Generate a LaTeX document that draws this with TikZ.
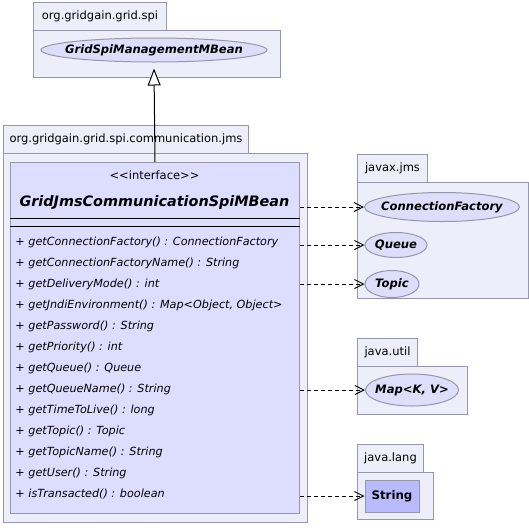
\documentclass[tikz,border=0pt]{standalone}
\usepackage{fontspec}
\setmainfont{DejaVu Sans}
\usetikzlibrary{shapes.geometric,arrows.meta}

\definecolor{pkgfill}{RGB}{238,238,250}
\definecolor{pkgline}{RGB}{150,150,172}
\definecolor{clsfill}{RGB}{221,221,255}
\definecolor{ellfill}{RGB}{222,222,250}
\definecolor{strfill}{RGB}{186,186,255}

\tikzset{every picture/.style={line width=1pt}}
\tikzset{
	pkgtab/.style={draw=pkgline, fill=pkgfill, anchor=north west, inner sep=0pt, font=\fontsize{11.5}{14}\selectfont},
	pkgbody/.style={draw=pkgline, fill=pkgfill, anchor=north west, inner sep=0pt},
	iface/.style={ellipse, draw=pkgline, fill=ellfill, inner xsep=-80pt, inner ysep=-20pt, font=\fontsize{11.6}{13}\selectfont\bfseries\itshape},
	method/.style={anchor=west, inner sep=0pt, font=\fontsize{11.2}{13}\selectfont\itshape},
	dep/.style={dash pattern=on 4pt off 3pt, -{Straight Barb[length=9pt,width=9pt]}},
	inherit/.style={-{Triangle[open,length=17pt,width=13pt,fill=white]}},
}

\begin{document}
\begin{tikzpicture}[x=1pt,y=-1pt]
	\useasboundingbox (0,0) rectangle (529,531);
	
	%Package org.gridgain.grid.spi
	\node[pkgtab, minimum width=133, minimum height=28] (spiTab) at (33,2) {org.gridgain.grid.spi};
	\node[pkgbody, minimum width=247, minimum height=47] (spiPkg) at (33,30) {};
	\node[iface, minimum width=226, minimum height=24] (spiMB) at (154,50) {GridSpiManagementMBean};
	
	%Package org.gridgain.grid.spi.communication.jms
	\node[pkgtab, minimum width=245, minimum height=28] (jmsCommTab) at (3,125) {org.gridgain.grid.spi.communication.jms};
	\node[pkgbody, minimum width=304, minimum height=369] (jmsCommPkg) at (3,153) {};
	\node[pkgbody, draw=pkgline, fill=clsfill, minimum width=289, minimum height=351] (cls) at (10,162) {};
	\node[inner sep=0pt, font=\fontsize{11.5}{13}\selectfont] (stereo) at (154.5,175) {{<}{<}interface{>}{>}};
	\node[inner sep=0pt, font=\fontsize{14.4}{16}\selectfont\bfseries\itshape] (clsName) at (154.5,203) {GridJmsCommunicationSpiMBean};
	\draw (cls.west |- 0,218) -- (cls.east |- 0,218);
	\draw (cls.west |- 0,226) -- (cls.east |- 0,226);
	\foreach \sig [count=\i] in {getConnectionFactory() : ConnectionFactory,
		getConnectionFactoryName() : String,
		getDeliveryMode() : int,
		{getJndiEnvironment() : Map<Object, Object>},
		getPassword() : String,
		getPriority() : int,
		getQueue() : Queue,
		getQueueName() : String,
		getTimeToLive() : long,
		getTopic() : Topic,
		getTopicName() : String,
		getUser() : String,
		isTransacted() : boolean}
	\node[method] (m\i) at (15,221+21*\i) {+ \sig};
	
	%Package javax.jms
	\node[pkgtab, minimum width=70, minimum height=28] (javaxJmsTab) at (357,154) {javax.jms};
	\node[pkgbody, minimum width=171, minimum height=116] (javaxJmsPkg) at (357,182) {};
	\node[iface, minimum width=155, minimum height=29] (cf) at (442,207) {ConnectionFactory};
	\node[iface, minimum width=62, minimum height=25] (queue) at (396,245) {Queue};
	\node[iface, minimum width=54, minimum height=27] (topic) at (392,284) {Topic};
	
	%Package java.util
	\node[pkgtab, minimum width=60, minimum height=28] (utilTab) at (357,338) {java.util};
	\node[pkgbody, minimum width=110, minimum height=48] (utilPkg) at (357,366) {};
	\node[iface, minimum width=93, minimum height=32] (map) at (412,390) {Map<K, V>};
	
	%Package java.lang
	\node[pkgtab, minimum width=66, minimum height=28] (langTab) at (357,444) {java.lang};
	\node[pkgbody, minimum width=76, minimum height=47] (langPkg) at (357,472) {};
	\node[draw=pkgline, fill=strfill, inner sep=0pt, minimum width=54, minimum height=32, font=\fontsize{11.8}{13}\selectfont\bfseries] (str) at (392,496) {String};
	
	%Generalization
	\draw[inherit] (cls.north) -- ([yshift=-6pt]spiMB.south);
	
	%Dependencies
	\draw[dep] (cls.east |- cf.west) -- (cf.west);
	\draw[dep] (cls.east |- queue.west) -- (queue.west);
	\draw[dep] (cls.east |- topic.west) -- (topic.west);
	\draw[dep] (cls.east |- map.west) -- (map.west);
	\draw[dep] (cls.east |- str.west) -- (str.west);
	
\end{tikzpicture}
\end{document}
